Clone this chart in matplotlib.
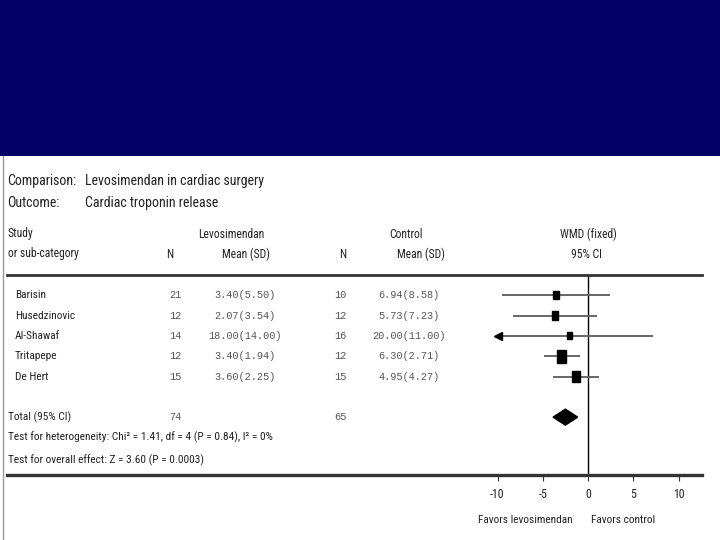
import matplotlib
matplotlib.use("Agg")
import matplotlib.pyplot as plt
from matplotlib import font_manager as fm
from matplotlib.patches import Rectangle, Polygon
from matplotlib.lines import Line2D

# ===============================
# DATOS
# ===============================
estudios = ["Barisin", "Husedzinovic", "Al-Shawaf", "Tritapepe", "De Hert"]
n_levo = [21, 12, 14, 12, 15]
media_levo = ["3.40(5.50)", "2.07(3.54)", "18.00(14.00)", "3.40(1.94)", "3.60(2.25)"]
n_ctrl = [10, 12, 16, 12, 15]
media_ctrl = ["6.94(8.58)", "5.73(7.23)", "20.00(11.00)", "6.30(2.71)", "4.95(4.27)"]

# WMD e IC 95% por estudio
wmd = [-3.54, -3.66, -2.00, -2.90, -1.35]
ic_inf = [-9.35, -8.21, -11.10, -4.79, -3.79]
ic_sup = [2.27, 0.89, 7.10, -1.01, 1.09]
peso = [5.5, 8.9, 2.2, 52.2, 31.1]

total_n_levo = 74
total_n_ctrl = 65
total_wmd = -2.50
total_inf = -3.86
total_sup = -1.14

ticks = [-10, -5, 0, 5, 10]

# ===============================
# FUENTES
# ===============================
fuentes = fm.fontManager.ttflist
nombres = {f.name for f in fuentes}
STRETCH = "normal"
if "Liberation Sans Narrow" in nombres:
    NARROW = ["Liberation Sans Narrow", "DejaVu Sans"]
    k = 1.0
elif "Roboto Condensed" in nombres:
    NARROW = ["Roboto Condensed", "DejaVu Sans"]
    k = 0.95
elif any(f.name == "DejaVu Sans" and f.stretch == "condensed" for f in fuentes):
    NARROW = ["DejaVu Sans"]
    STRETCH = "condensed"
    k = 0.92
else:
    NARROW = ["Liberation Sans", "DejaVu Sans"]
    k = 0.86
MONO = ["Liberation Mono", "DejaVu Sans Mono"]
TXT = "#222222"
GRIS = "#555555"

# ===============================
# FIGURA
# ===============================
W, H = 720, 540
fig = plt.figure(figsize=(7.2, 5.4), dpi=100)
fig.patch.set_facecolor("white")


def ft(x, y, s, size, **kw):
    kw.setdefault("va", "center")
    fig.text(x / W, 1 - y / H, s, family=NARROW, stretch=STRETCH,
             fontsize=size * k, color=TXT, **kw)


# banda azul superior
banda = fig.add_axes([0, 1 - 156 / H, 1, 156 / H])
banda.set_facecolor("#000066")
banda.set_xticks([])
banda.set_yticks([])
for s in banda.spines.values():
    s.set_visible(False)

# borde gris izquierdo
fig.add_artist(Line2D([2.5 / W, 2.5 / W], [0, 1 - 156 / H],
                      transform=fig.transFigure, color="#999999", lw=1))

# cabecera
ft(7, 181, "Comparison:", 10.5)
ft(85, 181, "Levosimendan in cardiac surgery", 10.5)
ft(7, 203, "Outcome:", 10.5)
ft(85, 203, "Cardiac troponin release", 10.5)

ft(8, 234, "Study", 8.8)
ft(8, 254, "or sub-category", 8.8)
ft(170, 254, "N", 8.8, ha="center")
ft(231, 234, "Levosimendan", 8.8, ha="center")
ft(246, 254, "Mean (SD)", 8.8, ha="center")
ft(343, 254, "N", 8.8, ha="center")
ft(406, 234, "Control", 8.8, ha="center")
ft(421, 254, "Mean (SD)", 8.8, ha="center")
ft(588, 234, "WMD (fixed)", 8.8, ha="center")
ft(586, 254, "95% CI", 8.8, ha="center")

# ===============================
# FOREST PLOT
# ===============================
x0, x1 = 7, 702
y_top, y_bot = 275, 475
px_unidad = 9.05
cero_px = 588
ax = fig.add_axes([x0 / W, 1 - y_bot / H, (x1 - x0) / W, (y_bot - y_top) / H])
ax.set_xlim((x0 - cero_px) / px_unidad, (x1 - cero_px) / px_unidad)
ax.set_ylim(8.85, -1)
ax.set_facecolor("none")
ax.spines["left"].set_visible(False)
ax.spines["right"].set_visible(False)
ax.spines["top"].set_color("#333333")
ax.spines["top"].set_linewidth(2)
ax.spines["bottom"].set_color("#333333")
ax.spines["bottom"].set_linewidth(2.4)
ax.set_yticks([])
ax.set_xticks(ticks)
ax.set_xticklabels([str(t) for t in ticks], family=NARROW, stretch=STRETCH,
                   fontsize=9 * k, color=TXT)
ax.tick_params(axis="x", direction="out", length=4, width=0.8, pad=5, color="#333333")

ax.axvline(0, color="black", lw=1, zorder=1)


def dx(xpx):
    return (xpx - cero_px) / px_unidad


def fila(xpx, y, s, **kw):
    ax.text(dx(xpx), y, s, va="center", family=NARROW, stretch=STRETCH,
            fontsize=8.6 * k, color=TXT, **kw)


def num(xpx, y, s):
    ax.text(dx(xpx), y, s, va="center", ha="center", family=MONO,
            fontsize=7.4, color=GRIS)


row_px = (y_bot - y_top) / 9.85
for i, nombre in enumerate(estudios):
    fila(15, i, nombre, ha="left")
    num(175, i, str(n_levo[i]))
    num(245, i, media_levo[i])
    num(340, i, str(n_ctrl[i]))
    num(409, i, media_ctrl[i])

    lo = max(ic_inf[i], ticks[0])
    ax.plot([lo, ic_sup[i]], [i, i], color="#666666", lw=1.4, zorder=2)
    if ic_inf[i] < ticks[0]:
        ax.plot([ticks[0]], [i], marker="<", color="black", markersize=6, zorder=3)

    lado = 4 + 0.7 * peso[i] ** 0.5
    w = lado / px_unidad
    h = lado * 1.4 / row_px
    ax.add_patch(Rectangle((wmd[i] - w / 2, i - h / 2), w, h,
                           facecolor="black", edgecolor="black", zorder=4))

# total
fila(8, 6, "Total (95% CI)", ha="left")
num(175, 6, str(total_n_levo))
num(340, 6, str(total_n_ctrl))
hd = 8 / row_px
ax.add_patch(Polygon([(total_inf, 6), (total_wmd, 6 - hd), (total_sup, 6), (total_wmd, 6 + hd)],
                     closed=True, facecolor="black", edgecolor="black", zorder=4))

fila(8, 7, "Test for heterogeneity: Chi² = 1.41, df = 4 (P = 0.84), I² = 0%", ha="left")
fila(8, 8.1, "Test for overall effect: Z = 3.60 (P = 0.0003)", ha="left")

ft(525, 520, "Favors levosimendan", 8.6, ha="center")
ft(623, 520, "Favors control", 8.6, ha="center")

fig.savefig("out.png", dpi=100)
